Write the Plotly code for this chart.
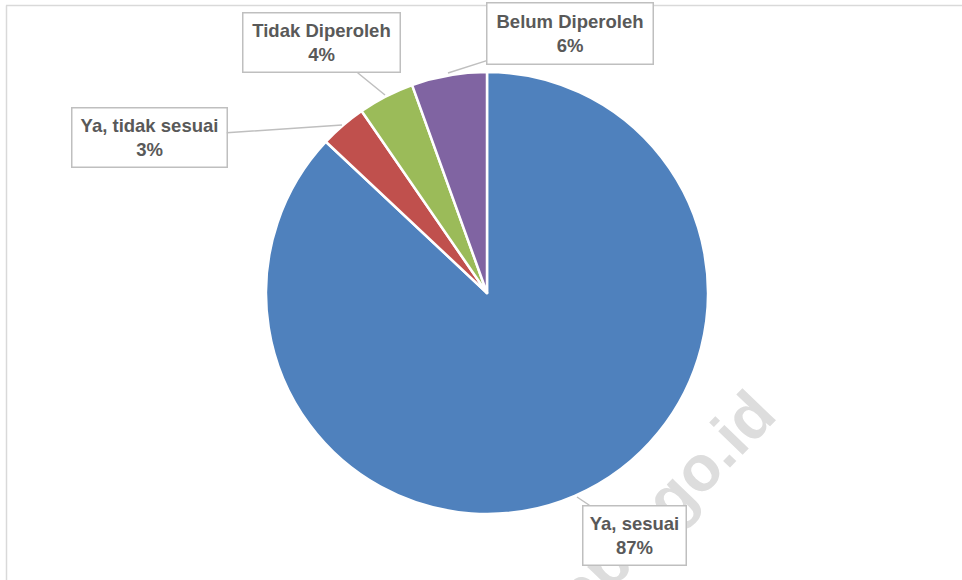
import plotly.graph_objects as go

labels = ["Ya, sesuai", "Ya, tidak sesuai", "Tidak Diperoleh", "Belum Diperoleh"]
values = [87.0, 3.4, 4.1, 5.5]
pct_labels = ["87%", "3%", "4%", "6%"]
colors = ["#4F81BD", "#C0504D", "#9BBB59", "#8064A2"]

W, H = 962, 580

fig = go.Figure(go.Pie(
    labels=labels, values=values, sort=False, direction="clockwise", rotation=0,
    marker=dict(colors=colors, line=dict(color="white", width=2.5)),
    textinfo="none", hoverinfo="label+percent", showlegend=False,
    domain=dict(x=[266 / W, 708 / W], y=[1 - 514 / H, 1 - 72 / H]),
))

# label callouts: (tip px, box centre px, box size)
callouts = [
    ((577, 497), (634, 535), (102, 58)),
    ((342, 125), (149, 138), (154, 58)),
    ((385, 95), (321, 43), (156, 58)),
    ((448, 73), (570, 34), (165, 60)),
]
for lab, pct, (tip, ctr, size) in zip(labels, pct_labels, callouts):
    fig.add_annotation(
        x=tip[0] / W, y=1 - tip[1] / H, xref="paper", yref="paper",
        ax=ctr[0] - tip[0], ay=ctr[1] - tip[1], axref="pixel", ayref="pixel",
        text=f"<b>{lab}</b><br><b>{pct}</b>",
        showarrow=True, arrowhead=0, arrowwidth=1.5, arrowcolor="#bfbfbf",
        font=dict(family="Liberation Sans, Arial, sans-serif", size=18.5, color="#595959"),
        width=size[0], height=size[1], borderpad=0,
        bordercolor="#bfbfbf", borderwidth=1.5, bgcolor="white", align="center",
    )

# watermark (drawn below the pie as a shape label)
fig.add_shape(
    type="rect", xref="paper", yref="paper", layer="below",
    x0=(660 - 5) / W, x1=(660 + 5) / W, y0=1 - 505 / H, y1=1 - 495 / H,
    line=dict(width=0), fillcolor="rgba(0,0,0,0)",
    label=dict(text="<b>bps.go.id</b>", textangle=-46, textposition="middle center",
               font=dict(family="Liberation Sans, Arial, sans-serif", size=64, color="#dddddd")),
)

# chart area border (top and left edges visible)
fig.add_shape(type="line", xref="paper", yref="paper", x0=6 / W, x1=1, y0=1 - 5.5 / H, y1=1 - 5.5 / H,
              line=dict(color="#d9d9d9", width=1.5))
fig.add_shape(type="line", xref="paper", yref="paper", x0=6.5 / W, x1=6.5 / W, y0=0, y1=1 - 5.5 / H,
              line=dict(color="#d9d9d9", width=1.5))

fig.update_layout(
    width=W, height=H, margin=dict(l=0, r=0, t=0, b=0),
    paper_bgcolor="white", plot_bgcolor="white",
)

fig.write_html("out.html", config={"displayModeBar": False},
               post_script="document.body.style.margin='0';")
